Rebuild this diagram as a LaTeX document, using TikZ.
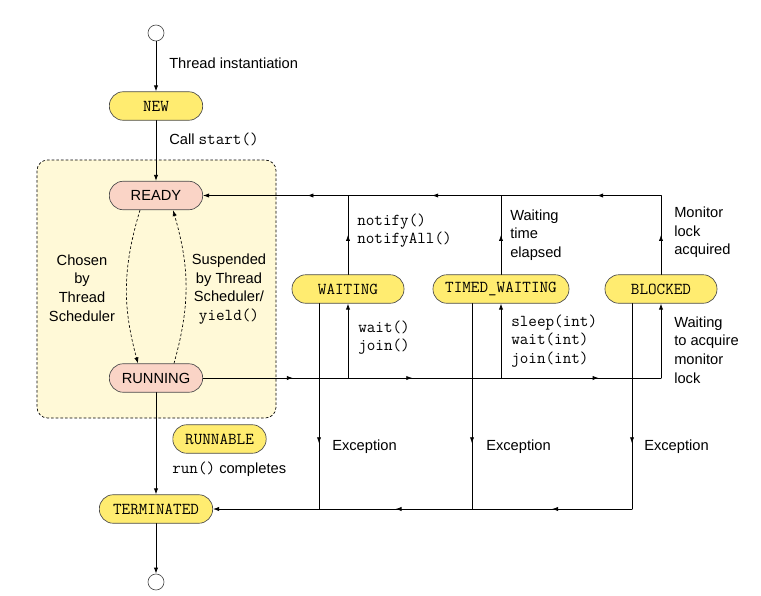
\documentclass[tikz,border=0pt]{standalone}
\usepackage{fontspec}
\setmainfont{Liberation Sans}
\usetikzlibrary{arrows.meta,decorations.markings}
\definecolor{stateYellow}{RGB}{255,236,112}
\definecolor{statePink}{RGB}{250,212,198}
\definecolor{boxYellow}{RGB}{255,249,215}
\newcommand\codeText[1]{{\fontsize{12.5}{14}\selectfont\ttfamily #1}}

\begin{document}
\begin{tikzpicture}
[x=0.75pt,y=-0.75pt,
  font=\fontsize{11}{14}\selectfont,
  >={Latex[length=4.5pt,width=3.2pt]},
  lineDecorate/.style={line width=0.6pt,line cap=round},%
  dashDecorate/.style={line width=0.5pt,dash pattern=on 2pt off 1.5pt},%
  stateDecorate/.style={shape=rectangle,rounded corners=10.5pt,draw=black!70,
    line width=0.5pt,minimum height=21.4pt,inner sep=0pt},%
  yellowState/.style={stateDecorate,fill=stateYellow},%
  pinkState/.style={stateDecorate,fill=statePink},%
  endDecorate/.style={shape=circle,draw=black!70,fill=white,line width=0.5pt,
    minimum size=12pt,inner sep=0pt},%
  labelDecorate/.style={anchor=west,align=left,inner sep=0pt},%
  midArrow/.style={postaction={decorate},
    decoration={markings,mark=at position #1 with {\arrow{>}}}},%
  midArrow/.default=0.5]
\useasboundingbox (0,0) rectangle (761,596);
%% runnable area
\draw[dashDecorate,rounded corners=8pt,fill=boxYellow] (37,160) rectangle (276,418);
%% nodes or states
\node (init) at (156,33) [endDecorate] {};
\node (final) at (156,582) [endDecorate] {};
\foreach \nodename/\x/\y/\w/\txt in {
  new/156/106/70/NEW, waiting/348/289/84/WAITING,
  timed/501/289/102/TIMED\_WAITING, blocked/661/289/84/BLOCKED,
  runnable/219.5/439/70/RUNNABLE, terminated/156/509/85/TERMINATED}
{
  \node (\nodename) at (\x,\y) [yellowState,minimum width=\w pt] {\codeText{\txt}};
}
\foreach \nodename/\y/\txt in {ready/195.5/READY, running/378/RUNNING}
{
  \node (\nodename) at (156,\y) [pinkState,minimum width=70pt] {\txt};
}
%% main column
\draw[->,lineDecorate] (init) -- (new);
\draw[->,lineDecorate] (new) -- (ready);
\draw[->,lineDecorate] (running) -- (terminated);
\draw[->,lineDecorate] (terminated) -- (final);
\draw[->,dashDecorate] ([xshift=-12pt]ready.south) to[bend right=16] ([xshift=-13.5pt]running.north);
\draw[->,dashDecorate] ([xshift=13.5pt]running.north) to[bend right=16] ([xshift=12.75pt]ready.south);
%% waiting states
\foreach \st in {waiting,timed,blocked}
{
  \coordinate (\st-top) at (\st.north |- ready.east);
  \coordinate (\st-low) at (\st.south |- running.east);
  \coordinate (\st-exc) at ([xshift=-21.75pt]\st.south);
  \coordinate (\st-end) at (\st-exc |- terminated.east);
  \draw[lineDecorate,midArrow] (\st.north) -- (\st-top);
  \draw[->,lineDecorate] (\st-low) -- (\st.south);
  \draw[lineDecorate,midArrow=0.68] (\st-exc) -- (\st-end);
}
\draw[lineDecorate,midArrow=0.4] (blocked-top) -- (timed-top);
\draw[lineDecorate,midArrow=0.45] (timed-top) -- (waiting-top);
\draw[->,lineDecorate,midArrow=0.28] (waiting-top) -- (ready.east);
\draw[lineDecorate,midArrow=0.62] (running) -- (waiting-low);
\draw[lineDecorate,midArrow=0.42] (waiting-low) -- (timed-low);
\draw[lineDecorate,midArrow=0.61] (timed-low) -- (blocked-low);
\draw[lineDecorate,midArrow] (blocked-end) -- (timed-end);
\draw[lineDecorate,midArrow] (timed-end) -- (waiting-end);
\draw[->,lineDecorate] (waiting-end) -- (terminated);
%% labels
\node[labelDecorate] (instLabel) at (169,63) {Thread instantiation};
\node[labelDecorate] (startLabel) at (169,139) {Call \codeText{start()}};
\node[align=center] (chosenLabel) at (82,288) {Chosen\\by\\Thread\\Scheduler};
\node[align=center] (suspendedLabel) at (229,289) {Suspended\\by Thread\\Scheduler/\\\codeText{yield()}};
\node[labelDecorate] (notifyLabel) at (357,230.5) {\codeText{notify()}\\\codeText{notifyAll()}};
\node[labelDecorate] (elapsedLabel) at (510,235) {Waiting\\time\\elapsed};
\node[labelDecorate] (acquiredLabel) at (674,232.5) {Monitor\\lock\\acquired};
\node[labelDecorate] (waitLabel) at (358,337.5) {\codeText{wait()}\\\codeText{join()}};
\node[labelDecorate] (sleepLabel) at (511,341) {\codeText{sleep(int)}\\\codeText{wait(int)}\\\codeText{join(int)}};
\node[labelDecorate] (monitorLabel) at (674,350) {Waiting\\to acquire\\monitor\\lock};
\foreach \nodename/\x in {excW/332, excT/486, excB/644}
{
  \node[labelDecorate] (\nodename) at (\x,447) {Exception};
}
\node[labelDecorate] (runLabel) at (172,469) {\codeText{run()} completes};
\end{tikzpicture}
\end{document}
